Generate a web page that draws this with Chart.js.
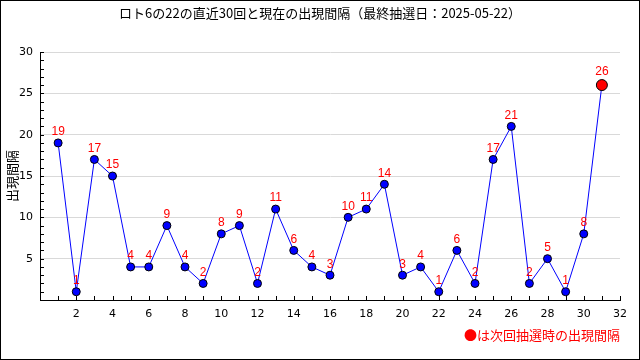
<!DOCTYPE html>
<html>
<head>
<meta charset="utf-8">
<script src="https://cdn.jsdelivr.net/npm/chart.js@4.4.1/dist/chart.umd.min.js"></script>
<style>
  html, body { margin: 0; padding: 0; background: #fff; }
  #wrap { width: 640px; height: 360px; }
</style>
</head>
<body>
<div id="wrap"><canvas id="kankaku"></canvas></div>
<script>
var kaisu = [1,2,3,4,5,6,7,8,9,10,11,12,13,14,15,16,17,18,19,20,21,22,23,24,25,26,27,28,29,30,31];
var kankaku = [19,1,17,15,4,4,9,4,2,8,9,2,11,6,4,3,10,11,14,3,4,1,6,2,17,21,2,5,1,8,26];

var title = "ロト6の22の直近30回と現在の出現間隔（最終抽選日：2025-05-22）";
var note = "●は次回抽選時の出現間隔";
var jpFont = "'Noto Sans CJK JP', 'DejaVu Sans', sans-serif";

var pts = kaisu.map(function (k, i) { return { x: k, y: kankaku[i] }; });
var last = pts.length - 1;

// title, frame, minor ticks, value labels, note
var extras = {
  id: 'extras',
  beforeDatasetsDraw: function (chart) {
    var c = chart.ctx, a = chart.chartArea;
    var xs = chart.scales.x, ys = chart.scales.y;
    c.save();
    c.strokeStyle = '#000';
    c.lineWidth = 1;
    c.beginPath();
    for (var v = 1; v <= 30; v++) {
      var py = Math.round(ys.getPixelForValue(v)) + 0.5;
      c.moveTo(a.left, py); c.lineTo(a.left + 4, py);
    }
    for (var u = 1; u <= 32; u++) {
      var px = Math.round(xs.getPixelForValue(u)) + 0.5;
      c.moveTo(px, a.bottom); c.lineTo(px, a.bottom - 4);
    }
    c.stroke();
    c.restore();
  },
  afterDraw: function (chart) {
    var c = chart.ctx;
    c.save();
    c.fillStyle = '#000';
    c.font = "13px " + jpFont;
    c.textAlign = 'center';
    c.textBaseline = 'middle';
    c.fillText(title, 320, 13);

    var meta = chart.getDatasetMeta(0);
    c.fillStyle = '#ff0000';
    c.font = "12px 'Liberation Sans', sans-serif";
    meta.data.forEach(function (p, i) {
      c.fillText(String(kankaku[i]), p.x, p.y - (i === last ? 13 : 11));
    });

    c.font = "13px " + jpFont;
    c.textAlign = 'right';
    c.fillText(note, 620, 335);

    c.strokeStyle = '#000';
    c.strokeRect(0.5, 0.5, 639, 359);
    c.restore();
  }
};

var ctx = document.getElementById("kankaku");
var chart = new Chart(ctx, {
  type: 'line',
  data: {
    datasets: [{
      data: pts,
      borderColor: '#0000ff',
      borderWidth: 1,
      pointBackgroundColor: pts.map(function (p, i) { return i === last ? '#ff0000' : '#0000ff'; }),
      pointBorderColor: '#000',
      pointBorderWidth: 1,
      pointRadius: pts.map(function (p, i) { return i === last ? 5.5 : 4; }),
      tension: 0,
      fill: false
    }]
  },
  options: {
    responsive: true,
    maintainAspectRatio: false,
    animation: false,
    devicePixelRatio: 1,
    layout: { padding: { top: 52, left: 0, right: 20, bottom: 0 } },
    plugins: { legend: { display: false }, tooltip: { enabled: false } },
    scales: {
      x: {
        type: 'linear',
        min: 0, max: 32,
        afterFit: function (s) { s.height = 60; },
        grid: { display: false, drawTicks: false },
        border: { display: true, color: '#000', width: 1 },
        ticks: {
          stepSize: 2,
          padding: 8,
          color: '#000',
          font: { size: 11, family: "'DejaVu Sans', sans-serif" },
          maxRotation: 0,
          callback: function (v) { return v === 0 ? '' : v; }
        }
      },
      y: {
        min: 0, max: 30,
        afterFit: function (s) { s.width = 40; },
        grid: {
          drawTicks: false,
          color: function (c) { return c.tick && c.tick.value > 0 ? '#d9d9d9' : 'rgba(0,0,0,0)'; }
        },
        border: { display: true, color: '#000', width: 1 },
        title: {
          display: true,
          text: '出現間隔',
          color: '#000',
          padding: { top: 4, bottom: 0 },
          font: { size: 13, family: jpFont }
        },
        ticks: {
          stepSize: 5,
          padding: 7,
          color: '#000',
          font: { size: 11, family: "'DejaVu Sans', sans-serif" },
          callback: function (v) { return v === 0 ? '' : v; }
        }
      }
    }
  },
  plugins: [extras]
});
</script>
</body>
</html>
